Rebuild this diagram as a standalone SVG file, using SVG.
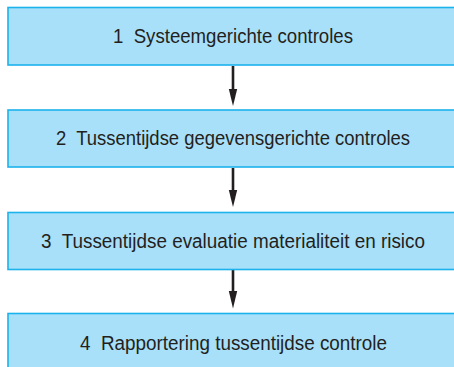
<svg xmlns="http://www.w3.org/2000/svg" width="454" height="367" viewBox="0 0 454 367">
<defs>
<style>
.box{fill:#a9e0f9;stroke:#1cb2ec;stroke-width:1.6}
.lbl{font-family:"Liberation Sans Narrow","Liberation Sans",Arial,sans-serif;font-size:19.5px;fill:#231f20;text-anchor:middle;white-space:pre}
.shaft{stroke:#231f20;stroke-width:2.6}
.head{fill:#231f20}
</style>
</defs>
<rect width="454" height="367" fill="#ffffff"/>
<g id="connectors">
<line class="shaft" x1="233" y1="66" x2="233" y2="92"/>
<polygon class="head" points="228.8,89 237.2,89 233,106"/>
<line class="shaft" x1="233" y1="168" x2="233" y2="193"/>
<polygon class="head" points="228.8,190 237.2,190 233,207"/>
<line class="shaft" x1="233" y1="270" x2="233" y2="294"/>
<polygon class="head" points="228.8,291 237.2,291 233,308.5"/>
</g>
<g id="node1">
<rect class="box" x="8" y="7.5" width="460" height="57.5"/>
<text class="lbl" xml:space="preserve" x="233" y="43.3" textLength="240" lengthAdjust="spacingAndGlyphs">1  Systeemgerichte controles</text>
</g>
<g id="node2">
<rect class="box" x="8" y="110" width="460" height="57"/>
<text class="lbl" xml:space="preserve" x="233" y="145" textLength="354" lengthAdjust="spacingAndGlyphs">2  Tussentijdse gegevensgerichte controles</text>
</g>
<g id="node3">
<rect class="box" x="8" y="212.5" width="460" height="57"/>
<text class="lbl" xml:space="preserve" x="233" y="247.5" textLength="384" lengthAdjust="spacingAndGlyphs">3  Tussentijdse evaluatie materialiteit en risico</text>
</g>
<g id="node4">
<rect class="box" x="8" y="313.5" width="460" height="60"/>
<text class="lbl" xml:space="preserve" x="233.5" y="349.5" textLength="307" lengthAdjust="spacingAndGlyphs">4  Rapportering tussentijdse controle</text>
</g>
</svg>
